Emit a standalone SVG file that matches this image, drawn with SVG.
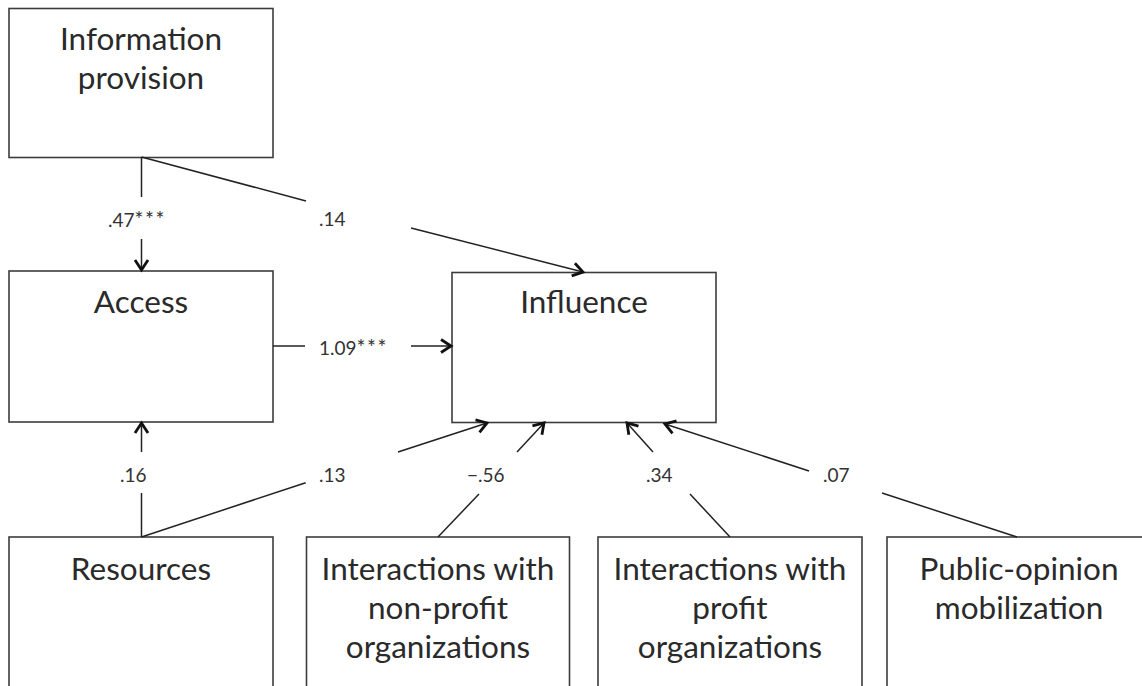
<svg xmlns="http://www.w3.org/2000/svg" width="1142" height="686" viewBox="0 0 1142 686">
<defs>
<style>
.box{fill:#fff;stroke:#3c3c3c;stroke-width:1.6}
.t{font-family:Lato,"Open Sans","Liberation Sans",sans-serif;font-size:31.5px;fill:#2a2a2a;text-anchor:middle}
.lb{font-family:Lato,"Open Sans","Liberation Sans",sans-serif;font-size:19px;fill:#333}
.st{font-size:21px;letter-spacing:1.5px}
.c{fill:none;stroke:#222;stroke-width:1.5}
</style>
<marker id="ah" markerUnits="userSpaceOnUse" markerWidth="20" markerHeight="20" viewBox="-12 -10 14 20" refX="0" refY="0" orient="auto">
<path d="M-10,-6.5 L0,0 L-10,6.5" fill="none" stroke="#111" stroke-width="2.8" stroke-linejoin="miter"/>
</marker>
</defs>
<rect width="1142" height="686" fill="#fff"/>
<g id="info"><rect class="box" x="9" y="8.5" width="264" height="149"/><text class="t" x="141" y="50">Information</text><text class="t" x="141" y="89">provision</text></g>
<g id="access"><rect class="box" x="9" y="271" width="264" height="151"/><text class="t" x="141" y="313">Access</text></g>
<g id="influence"><rect class="box" x="452" y="272.5" width="264" height="150"/><text class="t" x="584" y="313">Influence</text></g>
<g id="resources"><rect class="box" x="9" y="537" width="264" height="200"/><text class="t" x="141" y="580">Resources</text></g>
<g id="nonprofit"><rect class="box" x="306.5" y="537" width="263" height="200"/><text class="t" x="438" y="580">Interactions with</text><text class="t" x="438" y="619">non-profit</text><text class="t" x="438" y="658">organizations</text></g>
<g id="profit"><rect class="box" x="598" y="537" width="264" height="200"/><text class="t" x="730" y="580">Interactions with</text><text class="t" x="730" y="619">profit</text><text class="t" x="730" y="658">organizations</text></g>
<g id="public"><rect class="box" x="887" y="537" width="264" height="200"/><text class="t" x="1019" y="580">Public-opinion</text><text class="t" x="1019" y="619">mobilization</text></g>
<g id="connectors">
<line class="c" x1="141.5" y1="157" x2="141.5" y2="197"/>
<line class="c" x1="141.5" y1="239" x2="141.5" y2="270" marker-end="url(#ah)"/>
<line class="c" x1="141.5" y1="157" x2="306" y2="201"/>
<line class="c" x1="411" y1="228" x2="583" y2="272" marker-end="url(#ah)"/>
<line class="c" x1="273" y1="346" x2="305" y2="346"/>
<line class="c" x1="411" y1="346" x2="451" y2="346" marker-end="url(#ah)"/>
<line class="c" x1="141.5" y1="537" x2="141.5" y2="493"/>
<line class="c" x1="141.5" y1="452" x2="141.5" y2="423" marker-end="url(#ah)"/>
<line class="c" x1="141.5" y1="537" x2="305.7" y2="482.7"/>
<line class="c" x1="398" y1="452" x2="487" y2="423" marker-end="url(#ah)"/>
<line class="c" x1="438" y1="537" x2="479" y2="494"/>
<line class="c" x1="517" y1="452" x2="544" y2="423" marker-end="url(#ah)"/>
<line class="c" x1="730" y1="537" x2="690" y2="494"/>
<line class="c" x1="653" y1="452" x2="627" y2="423" marker-end="url(#ah)"/>
<line class="c" x1="1017" y1="537" x2="882" y2="493"/>
<line class="c" x1="809" y1="471" x2="665" y2="424" marker-end="url(#ah)"/>
<text class="lb" x="108" y="227">.47<tspan class="st">***</tspan></text>
<text class="lb" x="319" y="226">.14</text>
<text class="lb" x="319" y="355">1.09<tspan class="st">***</tspan></text>
<text class="lb" x="120" y="482">.16</text>
<text class="lb" x="319" y="482">.13</text>
<text class="lb" x="467" y="482">−.56</text>
<text class="lb" x="646" y="482">.34</text>
<text class="lb" x="823" y="482">.07</text>
</g>
</svg>
